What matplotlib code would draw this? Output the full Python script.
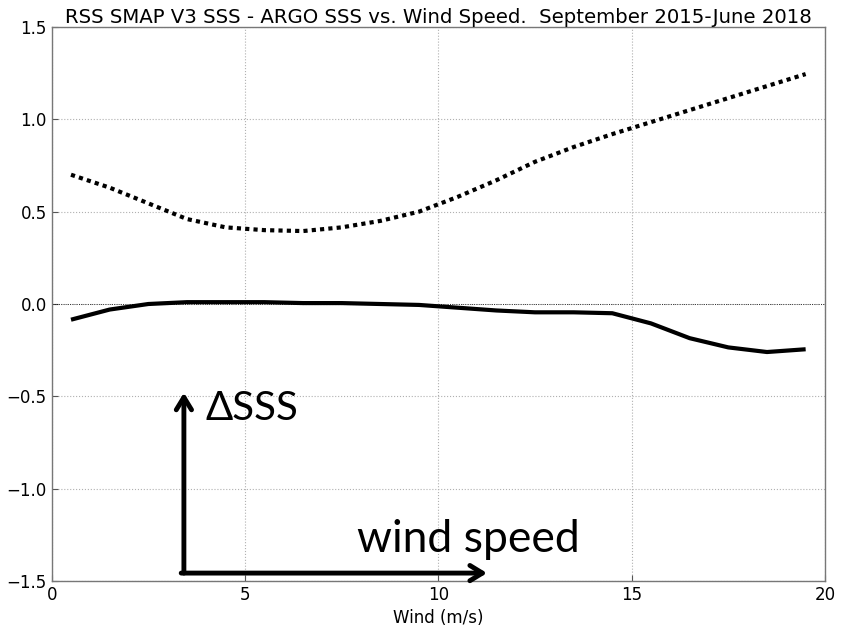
import numpy as np
import matplotlib
matplotlib.use('Agg')
import matplotlib.pyplot as plt

# bin centres (m/s)
wind = [0.5, 1.5, 2.5, 3.5, 4.5, 5.5, 6.5, 7.5, 8.5, 9.5,
        10.5, 11.5, 12.5, 13.5, 14.5, 15.5, 16.5, 17.5, 18.5, 19.5]
# mean SMAP - ARGO difference
bias = [-0.085, -0.03, 0.0, 0.01, 0.01, 0.01, 0.005, 0.005, 0.0, -0.005,
        -0.02, -0.035, -0.045, -0.045, -0.05, -0.105, -0.185, -0.235, -0.26, -0.245]
# standard deviation of the difference
stdev = [0.70, 0.63, 0.545, 0.46, 0.415, 0.40, 0.395, 0.415, 0.45, 0.50,
         0.58, 0.67, 0.77, 0.85, 0.92, 0.985, 1.05, 1.115, 1.18, 1.245]

fig = plt.figure(figsize=(8.47, 6.35), dpi=100)
ax = fig.add_axes([0.061, 0.085, 0.913, 0.8725])

ax.plot(wind, bias, color='k', lw=3, solid_capstyle='butt')
ax.plot(wind, stdev, color='k', lw=3, linestyle=(0, (1, 1)), dash_capstyle='butt')
ax.axhline(0, color='k', lw=0.6, linestyle=':')

ax.set_xlim(0, 20)
ax.set_ylim(-1.5, 1.5)
ax.set_xticks([0, 5, 10, 15, 20])
ax.set_yticks([-1.5, -1.0, -0.5, 0.0, 0.5, 1.0, 1.5])
ax.set_yticklabels(['\u22121.5', '\u22121.0', '\u22120.5', '0.0', '0.5', '1.0', '1.5'])
ax.grid(True, color='#b0b0b0', linestyle=':', lw=0.8)
ax.tick_params(direction='in', length=4, labelsize=12, width=0.8, color='#555555')
for s in ax.spines.values():
    s.set_color('#777777')
    s.set_linewidth(1.0)

ax.set_xlabel('Wind (m/s)', fontsize=12)
ax.set_title('RSS SMAP V3 SSS - ARGO SSS vs. Wind Speed.  September 2015-June 2018',
             fontsize=14.2, pad=2)

# axis-meaning arrows
arrow = dict(arrowstyle='->,head_length=0.9,head_width=0.55', lw=3.5, color='k',
             shrinkA=0, shrinkB=0)
ax.annotate('', xy=(3.42, -0.48), xytext=(3.42, -1.457), arrowprops=arrow)
ax.annotate('', xy=(11.26, -1.457), xytext=(3.35, -1.457), arrowprops=arrow)
ax.text(3.97, -0.63, '\u0394SSS', fontsize=29, family=['Lato', 'DejaVu Sans'], va='baseline')
ax.text(7.9, -1.343, 'wind speed', fontsize=32, family=['Lato', 'DejaVu Sans'], va='baseline')

fig.savefig('out.png', dpi=100)
